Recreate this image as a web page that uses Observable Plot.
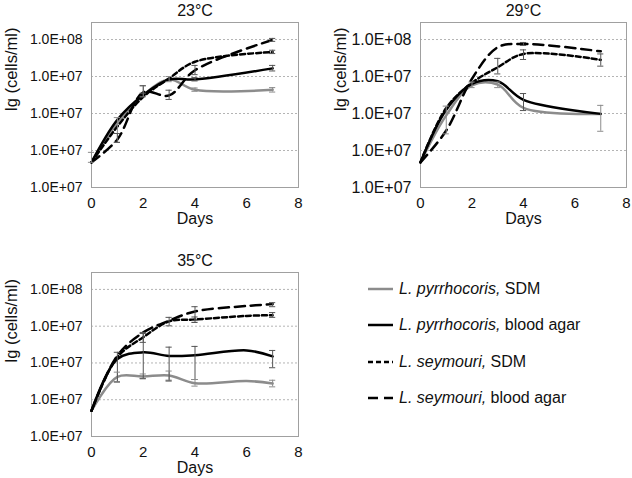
<!DOCTYPE html>
<html>
<head>
<meta charset="utf-8">
<script src="https://cdn.jsdelivr.net/npm/d3@7"></script>
<script src="https://cdn.jsdelivr.net/npm/@observablehq/plot@0.6"></script>
<style>
  html, body { margin: 0; padding: 0; background: #fff; }
  #chart { position: relative; width: 632px; height: 478px; overflow: hidden; font-family: "Liberation Sans", Arial, sans-serif; }
  .panel { position: absolute; }
  .legend-row { position: absolute; display: flex; align-items: center; font-size: 16px; color: #111; white-space: nowrap; }
</style>
</head>
<body>
<div id="chart"></div>
<script>
// ---- data (values in lg units above the bottom of the axis) ----
const seriesNames = ["L. pyrrhocoris, SDM", "L. pyrrhocoris, blood agar", "L. seymouri, SDM", "L. seymouri, blood agar"];
const seriesSpecies = ["L. pyrrhocoris,", "L. pyrrhocoris,", "L. seymouri,", "L. seymouri,"];
const seriesMedium = [" SDM", " blood agar", " SDM", " blood agar"];
const yTickLabels = ["1.0E+07", "1.0E+07", "1.0E+07", "1.0E+07", "1.0E+08"];
const xTicks = [0, 2, 4, 6, 8];

// 23°C
const days23 = [0, 1, 2, 3, 4, 7];
const pyrSDM23 = [0.68, 1.76, 2.5, 2.92, 2.64, 2.64];
const pyrBlood23 = [0.68, 1.83, 2.5, 2.92, 2.92, 3.22];
const seySDM23 = [0.68, 1.65, 2.45, 2.95, 3.4, 3.66];
const seyBlood23 = [0.68, 1.3, 2.57, 2.49, 3.17, 3.99];
// error bars: [series, day, low, high]
const err23 = [
  [0, 0, 0.68, 0.95], [0, 1, 1.22, 1.89], [0, 2, 2.45, 2.75], [0, 3, 2.86, 3.0], [0, 4, 2.6, 2.69], [0, 7, 2.58, 2.7],
  [1, 4, 2.88, 2.97], [1, 7, 3.15, 3.3],
  [2, 7, 3.62, 3.71],
  [3, 1, 1.22, 1.46], [3, 2, 2.55, 2.75], [3, 3, 2.38, 2.63], [3, 4, 3.05, 3.3], [3, 7, 3.95, 4.03]
];

// 29°C
const days29 = [0, 1, 2, 3, 4, 7];
const pyrSDM29 = [0.68, 1.95, 2.76, 2.78, 2.15, 1.99];
const pyrBlood29 = [0.68, 2.1, 2.8, 2.87, 2.37, 1.99];
const seySDM29 = [0.68, 2.15, 2.83, 3.25, 3.61, 3.45];
const seyBlood29 = [0.68, 1.54, 2.94, 3.79, 3.88, 3.68];
const err29 = [
  [0, 1, 1.45, 2.2], [0, 2, 2.7, 2.85], [0, 3, 2.7, 2.85], [0, 7, 1.52, 2.22],
  [1, 4, 2.08, 2.54],
  [2, 3, 3.07, 3.49], [2, 4, 3.46, 3.72], [2, 7, 3.28, 3.61],
  [3, 4, 3.84, 3.92]
];

// 35°C
const days35 = [0, 1, 2, 3, 4, 6, 7];
const pyrSDM35 = [0.7, 1.62, 1.63, 1.66, 1.45, 1.51, 1.44];
const pyrBlood35 = [0.7, 2.11, 2.29, 2.19, 2.21, 2.34, 2.18];
const seySDM35 = [0.7, 2.16, 2.7, 3.13, 3.18, 3.28, 3.3];
const seyBlood35 = [0.7, 2.2, 2.83, 3.15, 3.4, 3.55, 3.6];
const err35 = [
  [0, 1, 1.49, 1.75], [0, 2, 1.58, 1.7], [0, 3, 1.5, 1.78], [0, 4, 1.37, 1.55], [0, 7, 1.35, 1.53],
  [1, 1, 1.48, 2.29], [1, 2, 1.57, 2.8], [1, 3, 1.53, 2.43], [1, 4, 1.55, 2.45], [1, 7, 1.87, 2.34],
  [2, 2, 2.56, 2.83], [2, 3, 3.01, 3.24], [2, 4, 3.1, 3.25], [2, 7, 3.24, 3.37],
  [3, 4, 3.15, 3.53], [3, 7, 3.53, 3.64]
];

// ---- styles ----
const seriesColor = ["#8c8c8c", "#000000", "#000000", "#000000"];
const seriesDash = [null, null, "5,3", "10,6"];
const errColor = ["#8c8c8c", "#555555", "#555555", "#555555"];
const FONT = '"Liberation Sans", Arial, sans-serif';

function makePanel({title, days, series, errors, width, height, marginLeft, marginRight, marginTop, marginBottom, tickFont, labelDy}) {
  const marks = [
    Plot.gridY([1, 2, 3, 4], {stroke: "#b4b4b4", strokeOpacity: 1, strokeDasharray: "2,2"}),
    Plot.frame({stroke: "#a0a0a0"}),
    Plot.axisY({ticks: [0, 1, 2, 3, 4], tickFormat: i => yTickLabels[i], tickSize: 0, tickPadding: 9, fontSize: tickFont, label: null}),
    Plot.axisX({ticks: xTicks, tickSize: 0, tickPadding: 10, fontSize: 15, label: null}),
  ];
  series.forEach((vals, s) => {
    const rows = days.map((d, i) => ({day: d, v: vals[i]}));
    marks.push(Plot.line(rows, {
      x: "day", y: "v", curve: "catmull-rom",
      stroke: seriesColor[s], strokeWidth: 2.5,
      strokeDasharray: seriesDash[s] || undefined
    }));
  });
  const errRows = errors.map(([s, day, lo, hi]) => ({s, day, lo, hi}));
  marks.push(
    Plot.ruleX(errRows, {x: "day", y1: "lo", y2: "hi", stroke: d => errColor[d.s], strokeWidth: 1}),
    Plot.ruleY(errRows, {y: "lo", x1: d => d.day - 0.12, x2: d => d.day + 0.12, stroke: d => errColor[d.s], strokeWidth: 1}),
    Plot.ruleY(errRows, {y: "hi", x1: d => d.day - 0.12, x2: d => d.day + 0.12, stroke: d => errColor[d.s], strokeWidth: 1}),
    Plot.text([title], {text: d => d, frameAnchor: "top", lineAnchor: "middle", dy: -12, fontSize: 16, fill: "#111"}),
    Plot.text(["Days"], {text: d => d, frameAnchor: "bottom", lineAnchor: "middle", dy: 31, fontSize: 16, fill: "#111"}),
    Plot.text(["lg (cells/ml)"], {text: d => d, frameAnchor: "left", lineAnchor: "middle", dx: -80, dy: labelDy, rotate: -90, fontSize: 16.5, fill: "#111"})
  );
  return Plot.plot({
    width, height, marginLeft, marginRight, marginTop, marginBottom,
    style: {fontFamily: FONT, fontSize: "14px", color: "#111", background: "transparent"},
    x: {domain: [0, 8]},
    y: {domain: [0, 4.46]},
    color: {type: "identity"},
    marks
  });
}

const chart = document.getElementById("chart");
function place(el, left, top) {
  const wrap = document.createElement("div");
  wrap.className = "panel";
  wrap.style.left = left + "px";
  wrap.style.top = top + "px";
  wrap.appendChild(el);
  chart.appendChild(wrap);
}

place(makePanel({title: "23°C", days: days23, series: [pyrSDM23, pyrBlood23, seySDM23, seyBlood23], errors: err23,
  width: 316, height: 235, marginLeft: 91, marginRight: 18, marginTop: 22, marginBottom: 48, tickFont: 14, labelDy: 6}), 0, 0);
place(makePanel({title: "29°C", days: days29, series: [pyrSDM29, pyrBlood29, seySDM29, seyBlood29], errors: err29,
  width: 316, height: 235, marginLeft: 104, marginRight: 6, marginTop: 22, marginBottom: 48, tickFont: 16, labelDy: 6}), 316, 0);
place(makePanel({title: "35°C", days: days35, series: [pyrSDM35, pyrBlood35, seySDM35, seyBlood35], errors: err35,
  width: 316, height: 228, marginLeft: 91, marginRight: 18, marginTop: 22, marginBottom: 42, tickFont: 14, labelDy: 8}), 0, 250);

// ---- legend ----
const legendY = [289, 325, 362, 398];
seriesNames.forEach((name, s) => {
  const row = d3.select(chart).append("div").attr("class", "legend-row")
    .style("left", "367px").style("top", (legendY[s] - 11) + "px").style("height", "22px");
  const svg = row.append("svg").attr("width", 27).attr("height", 10).style("margin-right", "5px");
  svg.append("line").attr("x1", 1).attr("x2", 26).attr("y1", 5).attr("y2", 5)
    .attr("stroke", seriesColor[s]).attr("stroke-width", 2.5)
    .attr("stroke-dasharray", seriesDash[s] || null);
  row.append("span").style("font-style", "italic").text(seriesSpecies[s]);
  row.append("span").style("white-space", "pre").text(seriesMedium[s]);
});
</script>
</body>
</html>
